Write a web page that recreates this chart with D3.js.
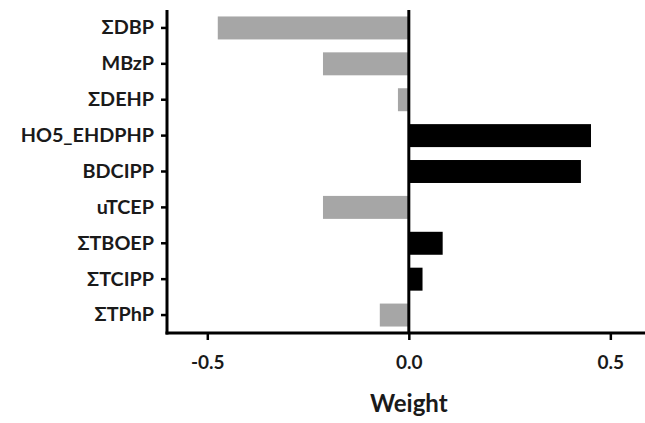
<!DOCTYPE html>
<html>
<head>
<meta charset="utf-8">
<script src="https://cdnjs.cloudflare.com/ajax/libs/d3/7.8.5/d3.min.js"></script>
<style>
  body { margin: 0; background: #fff; }
  text { font-family: Lato, "Open Sans", sans-serif; font-weight: bold; fill: #1a1a1a; }
</style>
</head>
<body>
<div id="chart"></div>
<script>
// chart data
const categories = ["ΣDBP", "MBzP", "ΣDEHP", "HO5_EHDPHP", "BDCIPP", "uTCEP", "ΣTBOEP", "ΣTCIPP", "ΣTPhP"];
const weights = [-0.474, -0.213, -0.027, 0.452, 0.427, -0.213, 0.084, 0.034, -0.072];
const xTicks = [-0.5, 0.0, 0.5];

const data = categories.map((c, i) => ({ name: c, weight: weights[i] }));

const W = 645, H = 423;
const margin = { top: 10, right: 0, bottom: 90, left: 167 };
const width = 645 - margin.left;
const height = H - margin.top - margin.bottom;

const svg = d3.select("#chart")
    .append("svg")
    .attr("width", W)
    .attr("height", H)
    .append("g")
    .attr("transform", `translate(${margin.left}, ${margin.top})`);

const x = d3.scaleLinear()
    .domain([-0.6, 0.586])
    .range([0, width]);

const y = d3.scaleBand()
    .domain(categories)
    .range([0, height])
    .paddingInner(0.36)
    .paddingOuter(0.18);

// bars
svg.selectAll(".bar")
    .data(data)
    .enter()
    .append("rect")
    .attr("class", "bar")
    .attr("x", d => x(Math.min(0, d.weight)))
    .attr("width", d => Math.abs(x(d.weight) - x(0)))
    .attr("y", d => y(d.name))
    .attr("height", y.bandwidth())
    .attr("fill", d => d.weight < 0 ? "#a6a6a6" : "#000");

// zero line
svg.append("line")
    .attr("x1", x(0)).attr("x2", x(0))
    .attr("y1", 0).attr("y2", height)
    .attr("stroke", "#000")
    .attr("stroke-width", 3);

const yAxis = d3.axisLeft(y).tickSize(6).tickPadding(7);
const xAxis = d3.axisBottom(x).tickValues(xTicks).tickSize(7).tickPadding(16)
    .tickFormat(d => d3.format(".1f")(d).replace("−", "-"));

const gy = svg.append("g").call(yAxis);
gy.select(".domain").remove();
gy.append("line")
    .attr("x1", 0).attr("x2", 0)
    .attr("y1", 0).attr("y2", height + 1.5)
    .attr("stroke", "#000").attr("stroke-width", 3);
gy.selectAll(".tick line").attr("stroke-width", 2.5).attr("x1", -1);
gy.selectAll(".tick text").style("font-size", "19.8px");

const gx = svg.append("g")
    .attr("transform", `translate(0, ${height})`)
    .call(xAxis);
gx.select(".domain").remove();
gx.append("line")
    .attr("x1", -1.5).attr("x2", width)
    .attr("y1", 0).attr("y2", 0)
    .attr("stroke", "#000").attr("stroke-width", 3);
gx.selectAll(".tick line").attr("stroke-width", 2.5);
gx.selectAll(".tick text").style("font-size", "19px");

svg.append("text")
    .attr("x", x(0))
    .attr("y", height + 79)
    .attr("text-anchor", "middle")
    .style("font-size", "24px")
    .text("Weight");
</script>
</body>
</html>
